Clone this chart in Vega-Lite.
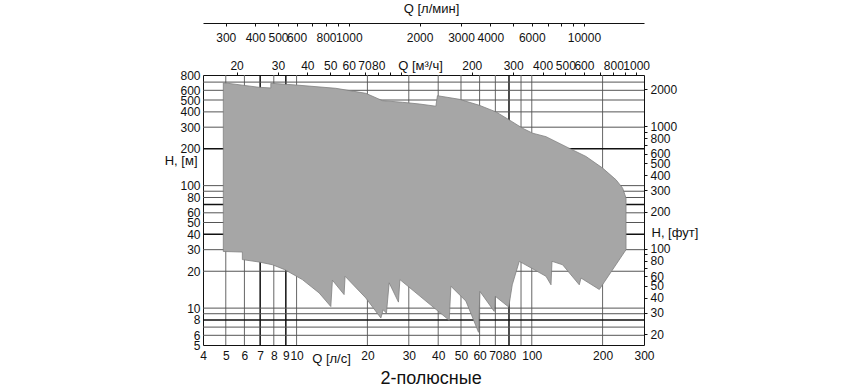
{
  "$schema": "https://vega.github.io/schema/vega-lite/v6.json",
  "width": 441,
  "height": 270,
  "autosize": {"type": "none"},
  "padding": {"left": 203, "top": 75, "right": 224, "bottom": 43},
  "config": {
    "font": "Liberation Sans",
    "view": {"stroke": null},
    "axis": {
      "labelFont": "Liberation Sans",
      "titleFont": "Liberation Sans",
      "labelColor": "#111",
      "titleColor": "#111",
      "domainColor": "#111",
      "tickColor": "#111",
      "grid": false,
      "labelFontSize": 12,
      "titleFontSize": 13,
      "titleFontWeight": "normal",
      "labelOverlap": false,
      "labelFlush": false,
      "labelBound": false
    }
  },
  "title": {"text": "2-полюсные", "orient": "bottom", "anchor": "middle", "frame": "bounds", "fontSize": 18, "fontWeight": "normal", "color": "#111", "offset": 5, "font": "Liberation Sans"},
  "datasets": {
    "vGrid": [{"q": 5}, {"q": 6}, {"q": 8}, {"q": 10}, {"q": 20}, {"q": 30}, {"q": 40}, {"q": 50}, {"q": 60}, {"q": 70}, {"q": 90}, {"q": 100}, {"q": 200}],
    "vGridBold": [{"q": 7}, {"q": 9}, {"q": 80}],
    "hGrid": [{"h": 700}, {"h": 600}, {"h": 500}, {"h": 400}, {"h": 300}, {"h": 100}, {"h": 90}, {"h": 80}, {"h": 60}, {"h": 50}, {"h": 30}, {"h": 20}, {"h": 10}, {"h": 9}, {"h": 7}, {"h": 6}],
    "hGridBold": [{"h": 200}, {"h": 70}, {"h": 40}, {"h": 8}],
    "coverage": [
      {"i": 1, "q": 4.88, "h": 692},
      {"i": 2, "q": 6.92, "h": 635},
      {"i": 3, "q": 7.77, "h": 627},
      {"i": 4, "q": 7.77, "h": 685},
      {"i": 5, "q": 9.92, "h": 663},
      {"i": 6, "q": 14.68, "h": 623},
      {"i": 7, "q": 19.69, "h": 567},
      {"i": 8, "q": 23.18, "h": 494},
      {"i": 9, "q": 28.19, "h": 479},
      {"i": 10, "q": 33.21, "h": 464},
      {"i": 11, "q": 39.1, "h": 445},
      {"i": 12, "q": 39.7, "h": 542},
      {"i": 13, "q": 49.15, "h": 507},
      {"i": 14, "q": 59.78, "h": 453},
      {"i": 15, "q": 70.4, "h": 400},
      {"i": 16, "q": 80.2, "h": 344},
      {"i": 17, "q": 91.37, "h": 294},
      {"i": 18, "q": 100.8, "h": 268},
      {"i": 19, "q": 114.9, "h": 251},
      {"i": 20, "q": 139.8, "h": 208},
      {"i": 21, "q": 170.0, "h": 173},
      {"i": 22, "q": 200.1, "h": 139},
      {"i": 23, "q": 228.2, "h": 111.5},
      {"i": 24, "q": 243.4, "h": 95.4},
      {"i": 25, "q": 251.6, "h": 79.1},
      {"i": 26, "q": 251.6, "h": 30.0},
      {"i": 27, "q": 193.7, "h": 14.2},
      {"i": 28, "q": 161.9, "h": 17.6},
      {"i": 29, "q": 159.2, "h": 15.5},
      {"i": 30, "q": 135.2, "h": 22.6},
      {"i": 31, "q": 121.9, "h": 24.1},
      {"i": 32, "q": 120.7, "h": 15.5},
      {"i": 33, "q": 114.9, "h": 18.2},
      {"i": 34, "q": 88.47, "h": 24.1},
      {"i": 35, "q": 82.6, "h": 15.5},
      {"i": 36, "q": 79.8, "h": 10.2},
      {"i": 37, "q": 69.93, "h": 12.5},
      {"i": 38, "q": 69.24, "h": 9.4},
      {"i": 39, "q": 60.18, "h": 13.7},
      {"i": 40, "q": 59.37, "h": 6.35},
      {"i": 41, "q": 52.49, "h": 11.4},
      {"i": 42, "q": 45.29, "h": 15.1},
      {"i": 43, "q": 44.56, "h": 7.95},
      {"i": 44, "q": 27.49, "h": 17.1},
      {"i": 45, "q": 27.11, "h": 11.2},
      {"i": 46, "q": 24.75, "h": 16.1},
      {"i": 47, "q": 24.1, "h": 9.1},
      {"i": 48, "q": 23.34, "h": 9.7},
      {"i": 49, "q": 22.82, "h": 8.3},
      {"i": 50, "q": 19.69, "h": 12.1},
      {"i": 51, "q": 16.08, "h": 18.2},
      {"i": 52, "q": 15.92, "h": 12.9},
      {"i": 53, "q": 14.2, "h": 16.9},
      {"i": 54, "q": 13.98, "h": 10.3},
      {"i": 55, "q": 12.47, "h": 13.3},
      {"i": 56, "q": 10.58, "h": 17.1},
      {"i": 57, "q": 8.91, "h": 20.6},
      {"i": 58, "q": 7.89, "h": 22.6},
      {"i": 59, "q": 6.92, "h": 23.8},
      {"i": 60, "q": 5.88, "h": 24.9},
      {"i": 61, "q": 5.88, "h": 28.7},
      {"i": 62, "q": 4.88, "h": 29.0},
      {"i": 63, "q": 4.88, "h": 692}
    ],
    "m3h": [{"v": 20}, {"v": 1000}],
    "lmin": [{"v": 300}, {"v": 10000}],
    "ft": [{"v": 20}, {"v": 2000}]
  },
  "resolve": {
    "scale": {"x": "independent", "y": "independent"},
    "axis": {"x": "independent", "y": "independent"}
  },
  "layer": [
    {
      "data": {"name": "vGrid"},
      "mark": {"type": "rule", "color": "#666", "strokeWidth": 1},
      "encoding": {
        "x": {"field": "q", "type": "quantitative", "scale": {"type": "log", "domain": [4, 300], "nice": false}, "axis": null}
      }
    },
    {
      "data": {"name": "vGridBold"},
      "mark": {"type": "rule", "color": "#111", "strokeWidth": 1.5},
      "encoding": {
        "x": {"field": "q", "type": "quantitative", "scale": {"type": "log", "domain": [4, 300], "nice": false}, "axis": null}
      }
    },
    {
      "data": {"name": "hGrid"},
      "mark": {"type": "rule", "color": "#555", "strokeWidth": 1},
      "encoding": {
        "y": {"field": "h", "type": "quantitative", "scale": {"type": "log", "domain": [5, 800], "nice": false}, "axis": null}
      }
    },
    {
      "data": {"name": "hGridBold"},
      "mark": {"type": "rule", "color": "#111", "strokeWidth": 1.5},
      "encoding": {
        "y": {"field": "h", "type": "quantitative", "scale": {"type": "log", "domain": [5, 800], "nice": false}, "axis": null}
      }
    },
    {
      "data": {"name": "coverage"},
      "mark": {"type": "line", "fill": "#a6a6a6", "stroke": "#808080", "strokeWidth": 0.8, "interpolate": "linear"},
      "encoding": {
        "x": {
          "field": "q", "type": "quantitative",
          "scale": {"type": "log", "domain": [4, 300], "nice": false},
          "axis": {
            "orient": "bottom",
            "values": [4, 5, 6, 7, 8, 9, 10, 20, 30, 40, 50, 60, 70, 80, 100, 200, 300],
            "format": "d",
            "ticks": false,
            "labelPadding": 5,
            "title": "Q [л/с]",
            "titleX": 128,
            "titleY": 17,
            "titleAlign": "center",
            "titleBaseline": "alphabetic"
          }
        },
        "y": {
          "field": "h", "type": "quantitative",
          "scale": {"type": "log", "domain": [5, 800], "nice": false},
          "axis": {
            "orient": "left",
            "values": [5, 6, 8, 10, 20, 30, 40, 50, 60, 80, 100, 200, 300, 400, 500, 600, 800],
            "format": "d",
            "ticks": false,
            "labelPadding": 3,
            "title": "H, [м]",
            "titleAngle": 0,
            "titleX": -6,
            "titleY": 85,
            "titleAlign": "right",
            "titleBaseline": "middle"
          }
        },
        "order": {"field": "i", "type": "quantitative"}
      }
    },
    {
      "data": {"name": "m3h"},
      "mark": {"type": "point", "opacity": 0},
      "encoding": {
        "x": {
          "field": "v", "type": "quantitative",
          "scale": {"type": "log", "domain": [14.4, 1080], "nice": false},
          "axis": {
            "orient": "top",
            "values": [20, 30, 40, 50, 60, 70, 80, 90, 100, 200, 300, 400, 500, 600, 700, 800, 900, 1000],
            "format": "d",
            "labelExpr": "indexof([90, 100, 700, 900], datum.value) >= 0 ? '' : datum.label",
            "tickSize": 3,
            "labelPadding": 0,
            "title": "Q [м³/ч]",
            "titleX": 217,
            "titleY": -6,
            "titleAlign": "center",
            "titleBaseline": "alphabetic"
          }
        }
      }
    },
    {
      "data": {"name": "lmin"},
      "mark": {"type": "point", "opacity": 0},
      "encoding": {
        "x": {
          "field": "v", "type": "quantitative",
          "scale": {"type": "log", "domain": [240, 18000], "nice": false},
          "axis": {
            "orient": "bottom",
            "offset": -322,
            "values": [300, 400, 500, 600, 700, 800, 900, 1000, 2000, 3000, 4000, 5000, 6000, 7000, 8000, 9000, 10000],
            "format": "d",
            "labelExpr": "indexof([700, 900, 5000, 7000, 8000, 9000], datum.value) >= 0 ? '' : datum.label",
            "tickSize": 3,
            "labelPadding": 6,
            "title": "Q [л/мин]",
            "titleX": 228,
            "titleY": -15,
            "titleAlign": "center",
            "titleBaseline": "middle"
          }
        }
      }
    },
    {
      "data": {"name": "ft"},
      "mark": {"type": "point", "opacity": 0},
      "encoding": {
        "y": {
          "field": "v", "type": "quantitative",
          "scale": {"type": "log", "domain": [16.4042, 2624.67], "nice": false},
          "axis": {
            "orient": "right",
            "values": [20, 30, 40, 50, 60, 70, 80, 90, 100, 200, 300, 400, 500, 600, 700, 800, 900, 1000, 2000],
            "format": "d",
            "labelExpr": "indexof([70, 90, 700, 900], datum.value) >= 0 ? '' : datum.label",
            "tickSize": 3,
            "labelPadding": 3,
            "title": "H, [фут]",
            "titleAngle": 0,
            "titleX": 7,
            "titleY": 157,
            "titleAlign": "left",
            "titleBaseline": "middle"
          }
        }
      }
    }
  ]
}
